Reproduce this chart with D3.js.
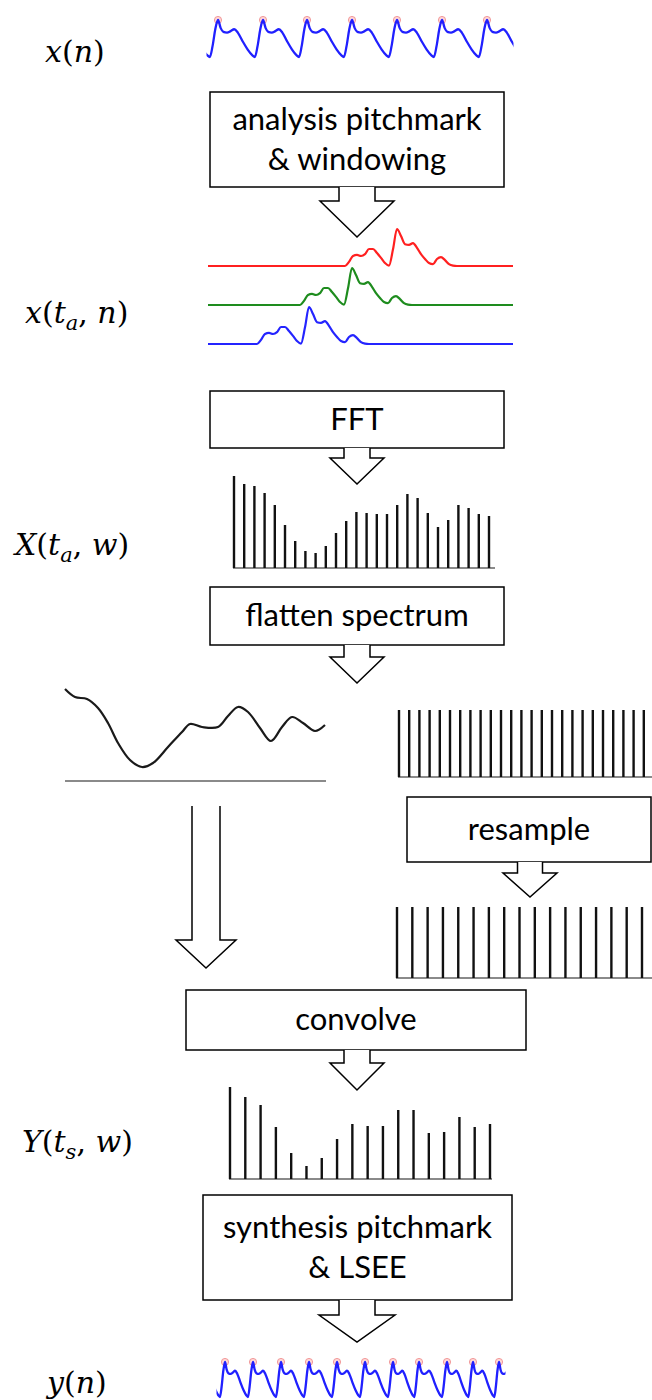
<!DOCTYPE html>
<html>
<head>
<meta charset="utf-8">
<script src="https://cdn.jsdelivr.net/npm/d3@7"></script>
<style>
    body { margin: 0; background: #fff; }
    .box-label { font-family: Lato, "Open Sans", sans-serif; font-size: 31px; fill: #000; }
    .math { font-family: "DejaVu Serif", serif; font-size: 30px; fill: #000; }
</style>
</head>
<body>
<div class="chart"></div>
<script>

//pitchmarks of x(n) and y(n), in samples
var analysisMarks = [10, 55, 99, 144, 189, 234, 279];
var analysisLength = 304;
var synthesisMarks = [7, 35, 63, 91, 119, 147, 175, 201, 229, 255, 281];
var synthesisLength = 286;

//one pitch period, phase 0 = pitchmark (peak)
var periodPhase = [0, 0.06, 0.12, 0.2, 0.28, 0.36, 0.44, 0.55, 0.66, 0.76, 0.82, 0.88, 0.94];
var periodValue = [1, 0.78, 0.68, 0.66, 0.7, 0.75, 0.66, 0.42, 0.2, 0.05, 0, 0.3, 0.75];

//windowed short-time frame, one value every frameStep samples
var frameShape = [0, .11, .27, .3, .27, .32, .46, .46, .35, .22, .08, .01, .45, 1, .81, .59, .57, .62, .49, .32, .19, .08, .05, .19, .24, .16, .05, .01, 0];
var frameStep = 4;
var frameStarts = [137, 92, 49];
var frameColors = ["#ff2020", "#1e8c1e", "#2424ff"];
var frameLength = 305;

//harmonic amplitudes
var harmonicsX = [92, 84, 82, 75, 63, 43, 27, 17, 15, 22, 35, 47, 56, 55, 54, 54, 63, 74, 70, 55, 41, 48, 63, 60, 54, 52];
var harmonicsY = [92, 82, 74, 52, 26, 13, 21, 40, 55, 53, 53, 69, 69, 46, 47, 62, 52, 55];

//spectral envelope
var envFreq = [0, 10, 22, 33, 43, 53, 65, 77, 88, 103, 117, 125, 137, 153, 163, 173, 183, 195, 206, 217, 227, 238, 250, 260];
var envAmp = [92, 84, 82, 73, 58, 38, 21, 14, 18, 34, 49, 57, 54, 54, 65, 74, 69, 53, 40, 54, 64, 58, 50, 56];

//pulse trains before / after resampling
var pulsesBefore = 26;
var pulsesAfter = 17;

//step boxes
var boxes = [
    { lines: ["analysis pitchmark", "& windowing"], x: 210, y: 92, w: 294, h: 95 },
    { lines: ["FFT"], x: 210, y: 391, w: 294, h: 57 },
    { lines: ["flatten spectrum"], x: 210, y: 587, w: 294, h: 58 },
    { lines: ["resample"], x: 407, y: 797, w: 244, h: 65 },
    { lines: ["convolve"], x: 186, y: 990, w: 340, h: 60 },
    { lines: ["synthesis pitchmark", "& LSEE"], x: 203, y: 1195, w: 309, h: 105 }
];

//block arrows: centre, top, stem half width, head half width, head top, tip
var arrows = [
    { cx: 357, top: 187, sh: 18, hh: 37, ht: 201, tip: 237 },
    { cx: 357, top: 448, sh: 13, hh: 27, ht: 458, tip: 484 },
    { cx: 357, top: 645, sh: 13, hh: 27, ht: 657, tip: 683 },
    { cx: 206, top: 806, sh: 14, hh: 30, ht: 940, tip: 968 },
    { cx: 530, top: 862, sh: 12.5, hh: 27, ht: 873, tip: 897 },
    { cx: 357, top: 1050, sh: 13, hh: 27, ht: 1063, tip: 1090 },
    { cx: 357, top: 1300, sh: 18, hh: 38, ht: 1315, tip: 1342 }
];

const svg = d3.select(".chart")
    .append("svg")
    .attr("width", 652)
    .attr("height", 1400);

var line = d3.line()
    .x(function (d) { return d[0]; })
    .y(function (d) { return d[1]; })
    .curve(d3.curveMonotoneX);

//lay the period shape on every pitchmark
function periodPoints(marks) {
    var pts = [];
    marks.forEach(function (m, i) {
        var next = i < marks.length - 1 ? marks[i + 1] : m + (m - marks[i - 1]);
        var P = next - m;
        if (i === 0) {
            periodPhase.forEach(function (ph, k) {
                if (ph > 0.5) pts.push([m - (1 - ph) * P, periodValue[k]]);
            });
        }
        periodPhase.forEach(function (ph, k) {
            pts.push([m + ph * P, periodValue[k]]);
        });
    });
    return pts;
}

function drawWave(marks, len, x0, x1, yPeak, yTrough, id) {
    var x = d3.scaleLinear().domain([0, len]).range([x0, x1]);
    var y = d3.scaleLinear().domain([0, 1]).range([yTrough, yPeak]);

    svg.append("clipPath").attr("id", id)
        .append("rect")
        .attr("x", x0 - 1.5).attr("y", yPeak - 10)
        .attr("width", x1 - x0 + 3).attr("height", yTrough - yPeak + 20);

    svg.append("g").selectAll("circle")
        .data(marks)
        .enter()
        .append("circle")
        .attr("cx", function (d) { return x(d); })
        .attr("cy", y(1))
        .attr("r", 3.6)
        .attr("fill", "rgba(255,140,140,0.35)")
        .attr("stroke", "rgba(235,120,120,0.7)")
        .attr("stroke-width", 1);

    svg.append("path")
        .datum(periodPoints(marks).map(function (d) { return [x(d[0]), y(d[1])]; }))
        .attr("clip-path", "url(#" + id + ")")
        .attr("d", line)
        .attr("fill", "none")
        .attr("stroke", "#2020ff")
        .attr("stroke-width", 2.3)
        .attr("stroke-linejoin", "round");
}

function drawSpectrum(values, x0, x1, base, lx0, lx1) {
    var x = d3.scaleLinear().domain([0, values.length - 1]).range([x0, x1]);
    var y = d3.scaleLinear().domain([0, 100]).range([base, base - 100]);
    svg.append("line")
        .attr("x1", lx0).attr("x2", lx1)
        .attr("y1", base).attr("y2", base)
        .attr("stroke", "#8a8a8a").attr("stroke-width", 2);
    svg.append("g").selectAll("line")
        .data(values)
        .enter()
        .append("line")
        .attr("x1", function (d, i) { return x(i); })
        .attr("x2", function (d, i) { return x(i); })
        .attr("y1", base)
        .attr("y2", function (d) { return y(d); })
        .attr("stroke", "#111")
        .attr("stroke-width", 2.4);
}

function drawPulses(count, x0, x1, top, base, lx0, lx1) {
    var x = d3.scaleLinear().domain([0, count - 1]).range([x0, x1]);
    svg.append("line")
        .attr("x1", lx0).attr("x2", lx1)
        .attr("y1", base).attr("y2", base)
        .attr("stroke", "#8a8a8a").attr("stroke-width", 2);
    svg.append("g").selectAll("line")
        .data(d3.range(count))
        .enter()
        .append("line")
        .attr("x1", function (d) { return x(d); })
        .attr("x2", function (d) { return x(d); })
        .attr("y1", base)
        .attr("y2", top)
        .attr("stroke", "#111")
        .attr("stroke-width", 2.4);
}

//labels with italic letters and subscripts
function mathLabel(x, y, parts) {
    var t = svg.append("text").attr("class", "math").attr("x", x).attr("y", y);
    parts.forEach(function (p) {
        var s = t.append("tspan").text(p[0]);
        if (p[1] === "i") s.attr("font-style", "italic");
        if (p[1] === "sub") {
            s.attr("font-style", "italic").attr("font-size", "21px").attr("dy", 7);
        }
        if (p[1] === "after") s.attr("dy", -7);
    });
}

//x(n)
drawWave(analysisMarks, analysisLength, 208, 512, 20, 57, "clipA");

//windowed frames
var xf = d3.scaleLinear().domain([0, frameLength]).range([208, 513]);
var frameBase = [266, 305, 344];
frameStarts.forEach(function (s, j) {
    var yf = d3.scaleLinear().domain([0, 1]).range([frameBase[j], frameBase[j] - 37]);
    var pts = [[0, 0]];
    frameShape.forEach(function (v, k) { pts.push([s + k * frameStep, v]); });
    pts.push([frameLength, 0]);
    svg.append("path")
        .datum(pts.map(function (d) { return [xf(d[0]), yf(d[1])]; }))
        .attr("d", line)
        .attr("fill", "none")
        .attr("stroke", frameColors[j])
        .attr("stroke-width", 2.2);
});

//X(ta, w)
drawSpectrum(harmonicsX, 234, 489, 568, 233, 495);

//envelope
var xe = d3.scaleLinear().domain([0, 260]).range([65, 325]);
var ye = d3.scaleLinear().domain([0, 100]).range([781, 681]);
svg.append("line")
    .attr("x1", 65).attr("x2", 326)
    .attr("y1", 781).attr("y2", 781)
    .attr("stroke", "#8a8a8a").attr("stroke-width", 2);
svg.append("path")
    .datum(envFreq.map(function (f, i) { return [xe(f), ye(envAmp[i])]; }))
    .attr("d", line.curve(d3.curveCatmullRom.alpha(0.5)))
    .attr("fill", "none")
    .attr("stroke", "#1a1a1a")
    .attr("stroke-width", 2.2);
line.curve(d3.curveMonotoneX);

//pulse trains
drawPulses(pulsesBefore, 399, 654, 710, 777, 398, 652);
drawPulses(pulsesAfter, 397, 642, 907, 978, 396, 652);

//Y(ts, w)
drawSpectrum(harmonicsY, 230, 490, 1179, 229, 492);

//y(n)
drawWave(synthesisMarks, synthesisLength, 218, 504, 1362, 1397, "clipB");

//boxes
boxes.forEach(function (b) {
    svg.append("rect")
        .attr("x", b.x).attr("y", b.y)
        .attr("width", b.w).attr("height", b.h)
        .attr("fill", "#fff")
        .attr("stroke", "#000")
        .attr("stroke-width", 1.5);
    var n = b.lines.length;
    b.lines.forEach(function (l, i) {
        svg.append("text")
            .attr("class", "box-label")
            .attr("x", b.x + b.w / 2)
            .attr("y", b.y + b.h / 2 + (i - (n - 1) / 2) * 40 + 10)
            .attr("text-anchor", "middle")
            .text(l);
    });
});

//arrows
arrows.forEach(function (a) {
    var p = d3.path();
    p.moveTo(a.cx - a.sh, a.top);
    p.lineTo(a.cx - a.sh, a.ht);
    p.lineTo(a.cx - a.hh, a.ht);
    p.lineTo(a.cx, a.tip);
    p.lineTo(a.cx + a.hh, a.ht);
    p.lineTo(a.cx + a.sh, a.ht);
    p.lineTo(a.cx + a.sh, a.top);
    svg.append("path")
        .attr("d", p.toString())
        .attr("fill", "#fff")
        .attr("stroke", "#000")
        .attr("stroke-width", 1.5);
});

//math labels
mathLabel(45, 62, [["x", "i"], ["("], ["n", "i"], [")"]]);
mathLabel(25, 323, [["x", "i"], ["("], ["t", "i"], ["a", "sub"], [",", "after"], [" n", "i"], [")"]]);
mathLabel(15, 555, [["X", "i"], ["("], ["t", "i"], ["a", "sub"], [",", "after"], [" w", "i"], [")"]]);
mathLabel(22, 1152, [["Y", "i"], ["("], ["t", "i"], ["s", "sub"], [",", "after"], [" w", "i"], [")"]]);
mathLabel(47, 1393, [["y", "i"], ["("], ["n", "i"], [")"]]);

</script>
</body>
</html>
